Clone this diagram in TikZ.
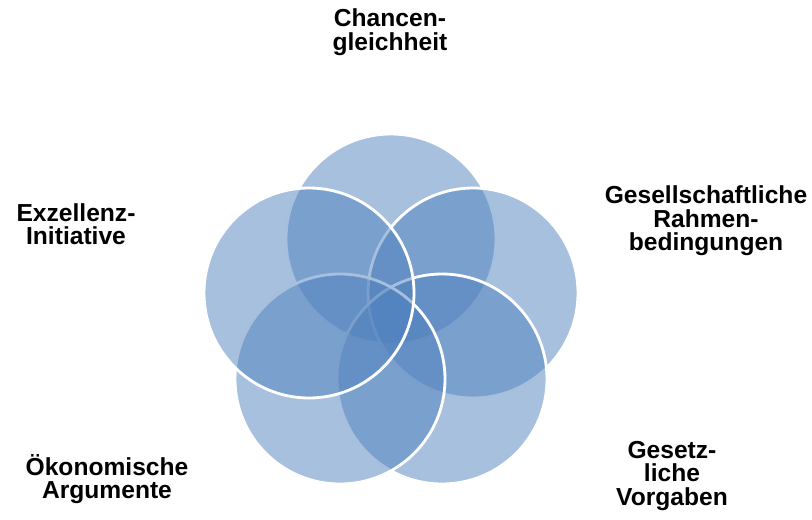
\documentclass[tikz,border=0pt]{standalone}
\usepackage{fontspec}
\setmainfont{Liberation Sans}
\usepackage{xcolor}
\usepackage{tikz}
\definecolor{vennblue}{HTML}{4F81BD}

\begin{document}
\begin{tikzpicture}[font=\fontsize{14}{13.4}\selectfont\bfseries,
  venn/.style={circle,draw=white,line width=1.6pt,fill=vennblue,fill opacity=0.5,minimum size=4.2cm,inner sep=0pt},
  lbl/.style={align=center,text=black},
]
\useasboundingbox (0,0) rectangle (16.24,10.38);

% circles, drawn clockwise from the top
\node[venn] at (7.82,5.60) (chance) {};
\node[venn] at (9.46,4.52) (gesell) {};
\node[venn] at (8.84,2.80) (gesetz) {};
\node[venn] at (6.80,2.80) (oekon)  {};
\node[venn] at (6.18,4.52) (exzell) {};

% labels
\node[lbl] at (7.80,9.74) (chancetxt) {Chancen-\\gleichheit};
\node[lbl] at (14.12,5.96) (gesetxt) {Gesellschaftliche\\Rahmen-\\bedingungen};
\node[lbl] at (13.44,0.86) (gesetztxt) {Gesetz-\\liche\\Vorgaben};
\node[lbl] at (2.14,0.80) (oekontxt) {Ökonomische\\Argumente};
\node[lbl] at (1.52,5.90) (exzelltxt) {Exzellenz-\\Initiative};
\end{tikzpicture}
\end{document}
